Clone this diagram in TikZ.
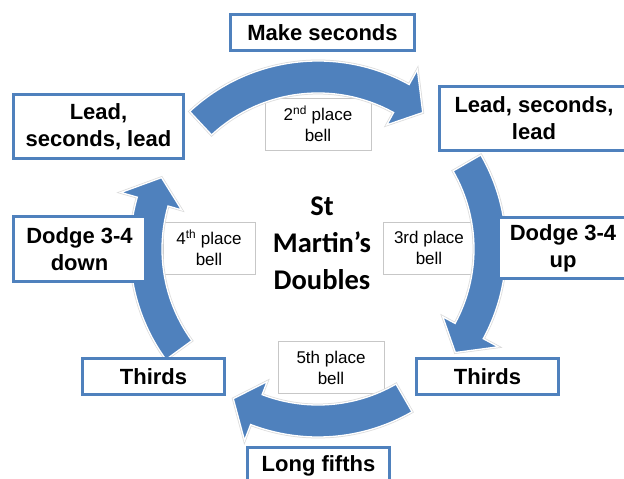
\documentclass[tikz,border=0pt]{standalone}
\usepackage{fontspec}
\setmainfont{Liberation Sans}
\newfontfamily\calibri{Carlito}
\definecolor{cycblue}{HTML}{4F81BD}

\begin{document}
\begin{tikzpicture}[x=1pt, y=1pt]
   \tikzstyle{stage}=[draw=cycblue, line width=3pt, fill=white, inner sep=0pt, align=center, font=\bfseries\fontsize{22}{27}\selectfont]
   \tikzstyle{bellbox}=[draw=black!22, line width=0.8pt, fill=white, inner sep=0pt, align=center, minimum height=52pt, font=\fontsize{17}{21}\selectfont]
   \tikzstyle{cyc}=[fill=cycblue, draw=white, line width=1.3pt, preaction={draw=black!14, line width=2.8pt}]

\useasboundingbox (0,0) rectangle (624,-479);
\coordinate (ctr) at (318,-249);

% bells (under the arrows)
\node[bellbox, minimum width=106pt] (bell2) at (318,-124) {2\textsuperscript{nd} place\\bell};
\node[bellbox, minimum width=92pt] (bell3) at (429,-248) {3rd place\\bell};
\node[bellbox, minimum width=92pt] (bell4) at (209,-248) {4\textsuperscript{th} place\\bell};
\node[bellbox, minimum width=106pt] (bell5) at (331,-367.5) {5th place\\bell};

% the cycle: tail / barbs / tip angles
\begin{scope}[shift={(ctr)}]
\foreach \ta/\ba/\pa in {133/61/52.5, 30/-28.5/-37, -60/-111/-119.5, -144/-196/-204.5}
   \draw[cyc] (\ta:188) arc[start angle=\ta, end angle=\ba, radius=188]
      -- (\ba:205) -- (\pa:172) -- (\ba:142) -- (\ba:156)
      arc[start angle=\ba, end angle=\ta, radius=156] -- cycle;
\end{scope}

% stages
\node[stage, minimum width=184pt, minimum height=36pt] (make) at (322.5,-32.5) {Make seconds};
\node[stage, minimum width=170pt, minimum height=64pt] (leadL) at (98.5,-126.5) {Lead,\\seconds, lead};
\node[stage, minimum width=189pt, minimum height=64pt] (leadR) at (534,-118.5) {Lead, seconds,\\lead};
\node[stage, minimum width=132pt, minimum height=65pt] (dodgeD) at (79.5,-249) {Dodge 3-4\\down};
\node[stage, minimum width=129pt, minimum height=61pt] (dodgeU) at (563,-248) {Dodge 3-4\\up};
\node[stage, minimum width=142pt, minimum height=36pt] (thirdsL) at (153.5,-376.5) {Thirds};
\node[stage, minimum width=142pt, minimum height=36pt] (thirdsR) at (487.5,-376.5) {Thirds};
\node[stage, minimum width=142pt, minimum height=36pt] (fifths) at (318.5,-465.5) {Long fifths};

\node[align=center, inner sep=0pt, font=\calibri\bfseries\fontsize{28.5}{37}\selectfont] (title) at (322,-243) {St\\Martin’s\\Doubles};

\end{tikzpicture}
\end{document}
